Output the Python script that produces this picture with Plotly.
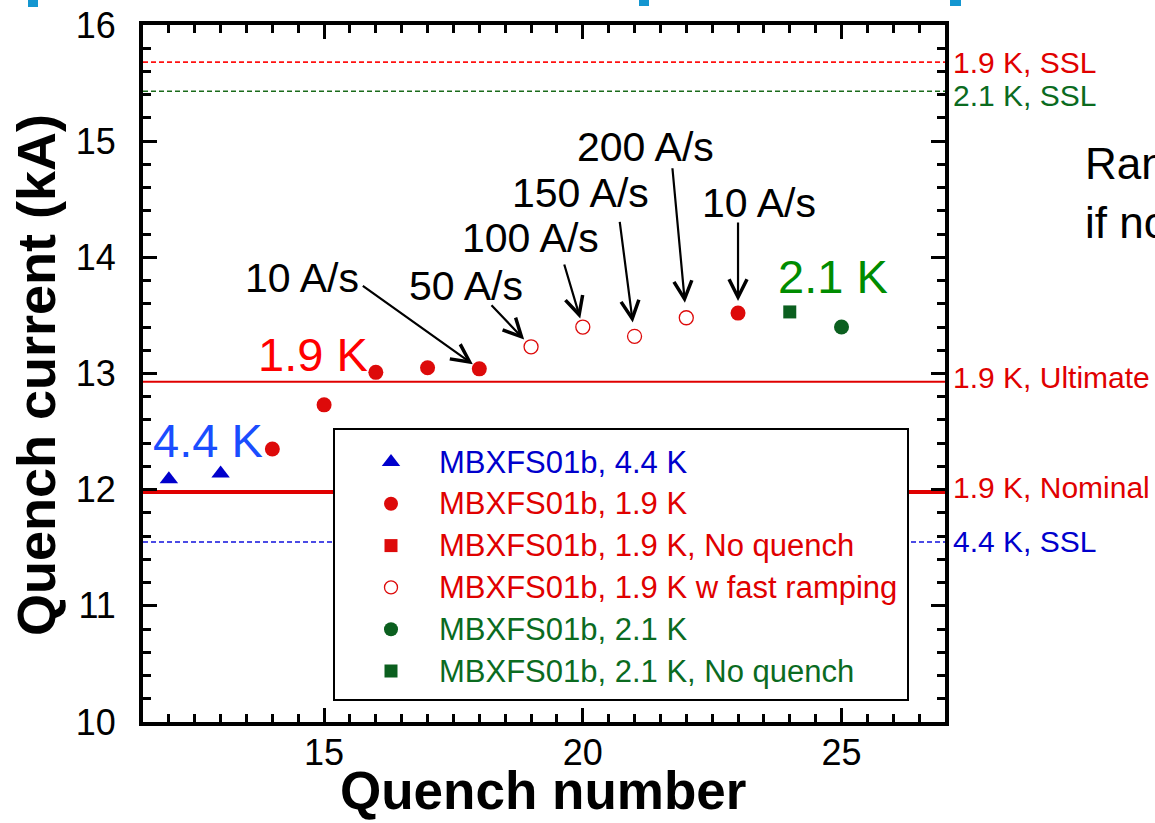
import plotly.graph_objects as go

# ---------------- data ----------------
q_44 = [12, 13]
i_44 = [12.09, 12.14]
q_19 = [14, 15, 16, 17, 18, 23]
i_19 = [12.35, 12.73, 13.01, 13.05, 13.04, 13.52]
q_19_nq = []
i_19_nq = []
q_19_fast = [19, 20, 21, 22]
i_19_fast = [13.23, 13.40, 13.32, 13.48]
q_21 = [25]
i_21 = [13.40]
q_21_nq = [24]
i_21_nq = [13.53]

ref_names = ["1.9 K, SSL", "2.1 K, SSL", "1.9 K, Ultimate", "1.9 K, Nominal", "4.4 K, SSL"]
ref_values = [15.68, 15.43, 12.93, 11.98, 11.55]

rate_labels = ["10 A/s", "50 A/s", "100 A/s", "150 A/s", "200 A/s", "10 A/s"]
rate_quench = [18, 19, 20, 21, 22, 23]

legend_names = ["MBXFS01b, 4.4 K", "MBXFS01b, 1.9 K", "MBXFS01b, 1.9 K, No quench",
                "MBXFS01b, 1.9 K w fast ramping", "MBXFS01b, 2.1 K", "MBXFS01b, 2.1 K, No quench"]

x_ticks = [15, 20, 25]
y_ticks = [10, 11, 12, 13, 14, 15, 16]

# ---------------- layout helpers ----------------
W, H = 1155, 823
L, R, T, B = 143, 210, 25, 101
X0, X1, Y0, Y1 = 11.5, 27, 10, 16
PW, PH = W - L - R, H - T - B


def pxp(x):  # pixel -> paper x
    return (x - L) / PW


def pyp(y):  # pixel -> paper y
    return 1 - (y - T) / PH


def dxx(x):  # pixel -> data x
    return X0 + (x - L) / PW * (X1 - X0)


def dyy(y):  # pixel -> data y
    return Y1 - (y - T) / PH * (Y1 - Y0)


FONT = "Liberation Sans, Arial, sans-serif"
BLUE = "#0000cc"
RED = "#e00000"
DGREEN = "#0b6b1f"
MARK_RED = "#dd0a0a"
MARK_GREEN = "#0b5f1f"

fig = go.Figure()

# ---------------- data traces ----------------
fig.add_trace(go.Scatter(x=q_44, y=i_44, mode="markers",
                         marker=dict(symbol="triangle-up", size=16, color=BLUE), showlegend=False))
fig.add_trace(go.Scatter(x=q_19, y=i_19, mode="markers",
                         marker=dict(symbol="circle", size=15, color=MARK_RED), showlegend=False))
fig.add_trace(go.Scatter(x=q_19_nq, y=i_19_nq, mode="markers",
                         marker=dict(symbol="square", size=13, color=MARK_RED), showlegend=False))
fig.add_trace(go.Scatter(x=q_19_fast, y=i_19_fast, mode="markers",
                         marker=dict(symbol="circle-open", size=14, color=MARK_RED,
                                     line=dict(width=1.3, color=MARK_RED)), showlegend=False))
fig.add_trace(go.Scatter(x=q_21, y=i_21, mode="markers",
                         marker=dict(symbol="circle", size=15, color=MARK_GREEN), showlegend=False))
fig.add_trace(go.Scatter(x=q_21_nq, y=i_21_nq, mode="markers",
                         marker=dict(symbol="square", size=13, color=MARK_GREEN), showlegend=False))

# ---------------- reference lines ----------------
ref_styles = [
    dict(color="#ff1010", width=1.6, dash="5px,3px"),
    dict(color="#1a6b1a", width=1.6, dash="5px,3px"),
    dict(color="#e00000", width=2, dash="solid"),
    dict(color="#e00000", width=4, dash="solid"),
    dict(color="#1010dd", width=1.6, dash="5px,3px"),
]
ref_colors = [RED, DGREEN, RED, RED, BLUE]
ref_yshift = [0, -4, 4, 4, 0]
shapes = []
for v, st in zip(ref_values, ref_styles):
    shapes.append(dict(type="line", xref="paper", yref="y", x0=0, x1=1, y0=v, y1=v,
                       line=st, layer="below"))

# legend box (covers lines)
LEG_L, LEG_R, LEG_T, LEG_B = 334, 908, 429, 700
shapes.append(dict(type="rect", xref="paper", yref="paper",
                   x0=pxp(LEG_L), x1=pxp(LEG_R), y0=pyp(LEG_B), y1=pyp(LEG_T),
                   fillcolor="white", line=dict(color="black", width=2), layer="below"))

# small cyan slide marks at top
for (a, b, c, d) in [(28, 38, 0, 7), (639, 649, 0, 6), (950, 961, 0, 6)]:
    shapes.append(dict(type="rect", xref="paper", yref="paper",
                       x0=pxp(a), x1=pxp(b), y0=pyp(d), y1=pyp(c),
                       fillcolor="#1496d0", line=dict(width=0), layer="above"))

# ---------------- legend markers ----------------
leg_rows = [462 + 41.8 * k for k in range(6)]
leg_sym_x = 391
leg_markers = [
    dict(symbol="triangle-up", size=16, color=BLUE),
    dict(symbol="circle", size=14, color=MARK_RED),
    dict(symbol="square", size=13, color=MARK_RED),
    dict(symbol="circle-open", size=13, color=MARK_RED, line=dict(width=1.3, color=MARK_RED)),
    dict(symbol="circle", size=14, color=MARK_GREEN),
    dict(symbol="square", size=13, color=MARK_GREEN),
]
leg_text_colors = [BLUE, RED, RED, RED, DGREEN, DGREEN]
for yrow, mk in zip(leg_rows, leg_markers):
    fig.add_trace(go.Scatter(x=[dxx(leg_sym_x)], y=[dyy(yrow)], mode="markers",
                             marker=mk, showlegend=False, cliponaxis=False))

annotations = []
for yrow, name, col in zip(leg_rows, legend_names, leg_text_colors):
    annotations.append(dict(xref="paper", yref="paper", x=pxp(437), y=pyp(yrow),
                            xanchor="left", yanchor="middle", text=name, showarrow=False,
                            font=dict(family=FONT, size=31, color=col)))

# right-hand labels of reference lines
for name, v, col, ys in zip(ref_names, ref_values, ref_colors, ref_yshift):
    annotations.append(dict(xref="paper", yref="y", x=pxp(951), y=v, yshift=ys,
                            xanchor="left", yanchor="middle", text=name, showarrow=False,
                            font=dict(family=FONT, size=30, color=col)))

# temperature labels
for txt, xl, yc, col in [("4.4 K", 151, 440, "#1a4dff"), ("1.9 K", 256, 354, "#ff0000"),
                         ("2.1 K", 776, 276, "#008c00")]:
    annotations.append(dict(xref="paper", yref="paper", x=pxp(xl), y=pyp(yc),
                            xanchor="left", yanchor="middle", text=txt, showarrow=False,
                            font=dict(family=FONT, size=47, color=col)))

# ramp-rate labels and arrows
lookup = {}
for qs, vs in [(q_19, i_19), (q_19_fast, i_19_fast)]:
    for q, v in zip(qs, vs):
        lookup[q] = v
label_pos = [(243, 278), (407, 286), (460, 238), (510, 193), (575, 147), (700, 203)]
arrow_off = [(-118, -84, 8), (-41, -43, 10), (-19, -64, 9), (-15, -116, 14), (-14, -151, 15), (0, -92, 12)]
for lab, q, (lx, ly), (ax, ay, so) in zip(rate_labels, rate_quench, label_pos, arrow_off):
    annotations.append(dict(xref="paper", yref="paper", x=pxp(lx), y=pyp(ly),
                            xanchor="left", yanchor="middle", text=lab, showarrow=False,
                            font=dict(family=FONT, size=41, color="black")))
    annotations.append(dict(xref="x", yref="y", x=q, y=lookup[q], text="", showarrow=True,
                            ax=ax, ay=ay, arrowhead=5, arrowsize=1.6, arrowwidth=2.2,
                            arrowcolor="black", standoff=so))

# axis titles
annotations.append(dict(xref="paper", yref="paper", x=pxp(36), y=pyp(375), textangle=-90,
                        xanchor="center", yanchor="middle", text="<b>Quench current (kA)</b>",
                        showarrow=False, font=dict(family=FONT, size=54, color="black")))
annotations.append(dict(xref="paper", yref="paper", x=pxp(543), y=pyp(822),
                        xanchor="center", yanchor="bottom", text="<b>Quench number</b>",
                        showarrow=False, font=dict(family=FONT, size=53, color="black")))

# slide text at the right edge
annotations.append(dict(xref="paper", yref="paper", x=pxp(1083), y=pyp(163), xanchor="left",
                        yanchor="middle", text="Ran", showarrow=False,
                        font=dict(family=FONT, size=44, color="black")))
annotations.append(dict(xref="paper", yref="paper", x=pxp(1083), y=pyp(222), xanchor="left",
                        yanchor="middle", text="if no", showarrow=False,
                        font=dict(family=FONT, size=44, color="black")))

axis_common = dict(showline=True, linewidth=4, linecolor="black", mirror="allticks",
                   ticks="inside", tickwidth=3, ticklen=14, tickcolor="black",
                   showgrid=False, zeroline=False, automargin=False,
                   tickfont=dict(family=FONT, size=36, color="black"))

fig.update_layout(
    width=W, height=H,
    margin=dict(l=L, r=R, t=T, b=B, pad=0, autoexpand=False),
    paper_bgcolor="white", plot_bgcolor="white",
    showlegend=False,
    shapes=shapes, annotations=annotations,
    xaxis=dict(range=[X0, X1], tickmode="array", tickvals=x_ticks,
               minor=dict(dtick=0.5, ticks="inside", ticklen=8, tickwidth=3, tickcolor="black"),
               ticklabelstandoff=-4, **axis_common),
    yaxis=dict(range=[Y0, Y1], tickmode="array", tickvals=y_ticks,
               minor=dict(dtick=0.2, ticks="inside", ticklen=8, tickwidth=3, tickcolor="black"),
               ticklabelstandoff=16, **axis_common),
)

fig.write_html("out.html")
